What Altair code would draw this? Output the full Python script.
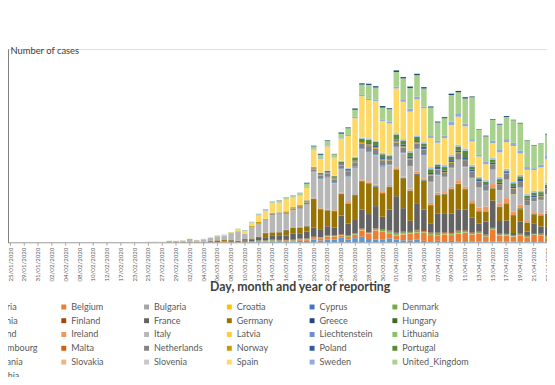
import altair as alt
import pandas as pd

dates = [
    "25/01/2020", "28/01/2020", "29/01/2020", "30/01/2020", "31/01/2020", "01/02/2020",
    "02/02/2020", "03/02/2020", "04/02/2020", "07/02/2020", "08/02/2020", "09/02/2020",
    "10/02/2020", "11/02/2020", "12/02/2020", "13/02/2020", "17/02/2020", "21/02/2020",
    "23/02/2020", "24/02/2020", "25/02/2020", "26/02/2020", "27/02/2020", "28/02/2020",
    "29/02/2020", "01/03/2020",
    "02/03/2020", "03/03/2020", "04/03/2020", "05/03/2020", "06/03/2020", "07/03/2020",
    "08/03/2020", "09/03/2020", "10/03/2020", "11/03/2020", "12/03/2020", "13/03/2020",
    "14/03/2020", "15/03/2020", "16/03/2020", "17/03/2020", "18/03/2020", "19/03/2020",
    "20/03/2020", "21/03/2020", "22/03/2020", "23/03/2020", "24/03/2020", "25/03/2020",
    "26/03/2020", "27/03/2020", "28/03/2020", "29/03/2020", "30/03/2020", "31/03/2020",
    "01/04/2020", "02/04/2020", "03/04/2020", "04/04/2020", "05/04/2020", "06/04/2020",
    "07/04/2020", "08/04/2020", "09/04/2020", "10/04/2020", "11/04/2020", "12/04/2020",
    "13/04/2020", "14/04/2020", "15/04/2020", "16/04/2020", "17/04/2020", "18/04/2020",
    "19/04/2020", "20/04/2020", "21/04/2020", "22/04/2020", "23/04/2020",
]
tick_labels = dates[::2]

countries = [
    "Austria", "Belgium", "Bulgaria", "Croatia", "Cyprus", "Denmark",
    "Estonia", "Finland", "France", "Germany", "Greece", "Hungary",
    "Iceland", "Ireland", "Italy", "Latvia", "Liechtenstein", "Lithuania",
    "Luxembourg", "Malta", "Netherlands", "Norway", "Poland", "Portugal",
    "Romania", "Slovakia", "Slovenia", "Spain", "Sweden", "United_Kingdom",
    "Czechia",
]
colors = [
    "#5B9BD5", "#ED7D31", "#A5A5A5", "#FFC000", "#4472C4", "#70AD47",
    "#255E91", "#9E480E", "#636363", "#997300", "#264478", "#43682B",
    "#7CAFDD", "#F1975A", "#B7B7B7", "#FFCD33", "#698ED0", "#8CC168",
    "#327DC2", "#D26012", "#848484", "#CC9A00", "#335AA1", "#5A8A39",
    "#9DC3E6", "#F4B183", "#C9C9C9", "#FFD966", "#8FAADC", "#A9D18E",
    "#1F4E79",
]

austria = [0,0,0,0,0,0,0,0,0,0,0,0,0,0,0,0,0,0,0,0,0,2,1,2,4,5,
    4,3,6,12,14,11,25,27,29,51, 64,115,151,204,205,158,314,314,550,375,
    595,595,1021,550,858,1141,668,594,522,805, 564,418,395,531,292,232,298,243,273,194,
    237,208,162,87,116,148,98,106,78,72, 51,64,78]
belgium = [0,0,0,0,0,0,0,0,1,0,0,0,0,0,0,0,0,0,0,0,0,0,0,0,0,1,
    0,6,5,10,27,59,60,31,39,28, 47,85,160,133,197,172,185,243,309,462,
    558,586,342,526,668,1298,1049,1850,1702,1063, 876,1189,1384,1422,1661,1260,1123,1380,1209,1580,
    1684,1351,1629,1068,2454,1236,1329,1060,1329,933, 1487,1313,973]
bulgaria = [0,0,0,0,0,0,0,0,0,0,0,0,0,0,0,0,0,0,0,0,0,0,0,0,0,0,
    0,0,0,0,0,0,4,0,2,0, 0,7,5,8,4,9,25,9,11,69,
    24,33,23,19,22,25,30,28,13,51, 11,41,26,27,14,25,28,43,17,48,
    38,57,10,12,45,27,37,48,29,28, 36,42,37]
croatia = [0,0,0,0,0,0,0,0,0,0,0,0,0,0,0,0,0,0,0,0,0,3,0,2,1,0,
    2,0,1,1,1,0,0,1,0,4, 6,5,5,6,8,16,25,24,24,32,
    52,48,53,61,52,79,84,56,56,34, 63,96,69,60,60,41,31,54,55,70,
    61,62,66,33,33,52,64,39,26,19, 21,18,11]
cyprus = [0,0,0,0,0,0,0,0,0,0,0,0,0,0,0,0,0,0,0,0,0,0,0,0,0,0,
    0,0,0,0,0,0,0,2,0,2, 2,0,8,7,6,6,25,9,8,17,
    10,11,19,12,30,28,13,52,16,30, 22,58,23,13,19,18,10,20,18,45,
    23,17,21,12,17,11,16,11,25,7, 5,9,5]
denmark = [0,0,0,0,0,0,0,0,0,0,0,0,0,0,0,0,0,0,0,0,0,0,0,1,0,2,
    1,1,1,5,8,4,4,15,55,156, 252,160,127,37,33,77,80,146,123,44,
    103,79,81,131,133,162,80,175,234,257, 282,256,215,370,248,329,312,173,221,266,
    184,177,179,275,248,144,118,112,109,184, 109,161,197]
estonia = [0,0,0,0,0,0,0,0,0,0,0,0,0,0,0,0,0,0,0,0,0,0,0,1,0,0,
    0,0,1,0,0,0,1,7,0,2, 5,11,40,48,40,100,53,28,27,25,
    23,20,26,25,31,12,34,35,32,37, 41,44,40,36,42,52,64,67,76,71,
    55,36,27,21,82,16,58,33,48,14, 19,28,12]
finland = [0,0,0,1,0,0,0,0,0,0,0,0,0,0,0,0,0,0,0,0,0,1,0,0,0,0,
    1,0,4,4,3,3,3,5,0,15, 19,69,46,48,0,105,59,60,93,71,
    112,95,125,91,65,97,71,88,114,145, 106,104,169,253,198,106,120,119,231,153,
    178,128,138,94,149,139,165,114,123,167, 155,173,160]
france = [3,0,0,1,0,0,0,0,0,0,5,0,0,0,0,1,0,0,0,0,0,2,4,20,19,43,
    61,21,73,138,190,92,296,177,286,372, 497,595,785,838,924,1210,1097,1404,1861,1617,
    1847,1559,3838,2446,2931,3922,3809,4611,2599,4376, 7578,4861,2116,5233,4267,1873,3912,3777,3881,4286,
    4342,3114,1613,2673,5497,2633,2641,405,2569,785, 2051,1457,1827]
germany = [0,1,3,0,1,2,0,2,2,1,0,0,2,0,1,0,0,0,0,0,0,2,6,18,14,57,
    40,46,37,66,138,284,163,55,237,157, 271,802,693,733,1043,1174,1144,1042,5940,4049,
    3276,3311,4438,4100,4954,5780,6294,3965,4751,4615, 5453,6156,6174,6082,5936,3677,3834,4003,4974,5323,
    4133,2821,2537,2082,2486,2866,3380,3609,2458,1775, 1785,2237,2352]
greece = [0,0,0,0,0,0,0,0,0,0,0,0,0,0,0,0,0,0,0,0,0,0,1,2,1,0,
    0,0,2,22,13,1,9,12,16,0, 10,59,38,18,103,7,56,31,46,77,
    35,94,71,48,78,71,71,95,102,60, 69,32,31,129,60,57,62,56,54,20,
    35,57,25,24,22,40,30,26,29,10, 4,15,156]
hungary = [0,0,0,0,0,0,0,0,0,0,0,0,0,0,0,0,0,0,0,0,0,0,0,0,0,0,
    0,0,0,2,2,0,1,5,3,3, 3,3,6,2,7,11,8,15,12,33,
    18,36,19,39,35,58,40,43,39,45, 45,60,33,38,55,73,84,78,85,50,
    69,50,42,25,50,74,118,82,210,71, 101,76,111]
iceland = [0,0,0,0,0,0,0,0,0,0,0,0,0,0,0,0,0,0,0,0,0,0,0,1,0,0,
    3,3,7,10,8,10,5,5,12,15, 12,25,22,9,41,45,51,80,79,94,
    59,95,20,78,89,100,74,67,37,67, 99,60,48,35,61,12,34,27,40,37,
    28,34,12,12,10,21,14,11,12,9, 4,7,5]
ireland = [0,0,0,0,0,0,0,0,0,0,0,0,0,0,0,0,0,0,0,0,0,0,0,0,1,0,
    1,0,0,4,5,5,2,5,3,10, 9,27,20,39,40,54,74,191,126,126,
    102,121,219,204,235,255,302,294,200,295, 325,212,402,424,331,390,370,345,365,700,
    500,430,727,992,832,657,1068,724,778,493, 401,388,631]
italy = [0,0,0,0,2,0,0,0,0,1,0,0,0,0,0,0,0,17,62,53,97,93,78,250,238,240,
    561,347,466,587,769,778,1247,1797,977,2313, 2651,2547,3497,3590,3233,3526,3700,4207,5322,5986,
    6557,5560,4789,5249,5210,6153,5959,5974,5217,4050, 4053,4782,4668,4585,4805,4316,3599,3039,3836,4204,
    3951,4694,4092,3153,2972,2667,3786,3493,3491,3047, 2256,2729,3370]
latvia = [0,0,0,0,0,0,0,0,0,0,0,0,0,0,0,0,0,0,0,0,0,0,0,0,0,0,
    0,1,0,0,0,0,1,0,0,0, 0,1,7,10,1,4,15,16,25,12,
    13,15,17,23,24,17,17,44,29,29, 24,48,15,16,10,11,26,30,19,23,
    33,8,7,7,9,28,16,31,9,9, 19,9,20]
liechtenstein = [0,0,0,0,0,0,0,0,0,0,0,0,0,0,0,0,0,0,0,0,0,0,0,0,0,0,
    0,0,0,0,0,0,0,0,0,0, 0,0,3,0,0,3,0,9,10,5,
    6,5,3,4,2,5,3,2,2,0, 3,0,3,0,3,0,2,0,0,1,
    0,0,0,1,0,0,2,0,0,0, 1,0,0]
lithuania = [0,0,0,0,0,0,0,0,0,0,0,0,0,0,0,0,0,0,0,0,0,0,0,1,0,0,
    0,0,0,0,0,0,0,0,0,3, 0,3,3,6,0,11,8,6,20,20,
    22,27,30,35,47,85,42,83,23,30, 47,69,12,47,3,14,46,14,31,66,
    32,40,48,83,51,13,10,18,18,10, 25,43,33]
luxembourg = [0,0,0,0,0,0,0,0,0,0,0,0,0,0,0,0,0,0,0,0,0,0,0,0,1,0,
    0,0,0,1,2,0,0,0,1,6, 3,12,7,17,26,18,59,62,68,129,
    131,139,136,98,224,152,94,149,184,73, 138,67,156,126,167,104,120,96,87,94,
    82,73,42,56,70,17,44,43,57,20, 18,14,24]
malta = [0,0,0,0,0,0,0,0,0,0,0,0,0,0,0,0,0,0,0,0,0,0,0,0,0,0,
    0,0,0,0,0,3,0,0,0,2, 3,5,11,4,0,6,10,10,21,13,
    16,17,14,4,10,15,10,12,10,10, 13,13,15,11,21,9,13,17,28,19,
    6,13,14,8,8,8,5,11,18,5, 3,2,2]
netherlands = [0,0,0,0,0,0,0,0,0,0,0,0,0,0,0,0,0,0,0,0,0,0,0,1,1,5,
    8,5,6,20,44,46,60,77,56,61, 121,111,190,155,176,278,292,346,409,534,
    637,573,545,811,852,1019,1172,1159,1104,884, 845,1019,1083,1026,904,1224,952,777,969,1213,
    1335,1316,1174,964,867,1061,1235,1140,1066,1067, 750,729,1066]
norway = [0,0,0,0,0,0,0,0,0,0,0,0,0,0,0,0,0,0,0,0,0,0,1,0,5,9,
    4,9,24,16,40,57,25,30,40,193, 221,100,149,162,156,103,194,153,237,199,
    234,235,246,177,194,294,369,351,254,184, 381,286,290,238,186,220,144,148,162,177,
    101,58,79,74,92,137,141,97,99,72, 55,84,108]
poland = [0,0,0,0,0,0,0,0,0,0,0,0,0,0,0,0,0,0,0,0,0,0,0,0,0,0,
    0,0,1,0,4,0,6,6,5,9, 25,19,17,36,25,27,75,49,68,111,
    98,115,152,150,170,168,249,224,193,256, 243,392,437,244,475,311,435,357,370,380,
    336,318,260,268,380,336,300,363,545,263, 313,263,342]
portugal = [0,0,0,0,0,0,0,0,0,0,0,0,0,0,0,0,0,0,0,0,0,0,0,0,0,0,
    0,2,3,3,4,8,9,9,11,18, 18,34,57,57,86,114,117,194,143,235,
    260,320,460,302,633,549,724,902,792,446, 1035,808,783,852,638,754,452,712,699,815,
    1516,598,349,514,643,750,181,663,521,598, 629,516,371]
romania = [0,0,0,0,0,0,0,0,0,0,0,0,0,0,0,0,0,0,0,0,0,0,1,2,0,0,
    0,0,1,1,2,3,2,2,6,10, 14,12,17,19,35,15,26,60,31,31,
    59,66,143,186,144,123,263,160,308,293, 245,269,311,290,257,449,193,441,344,325,
    378,350,300,322,309,404,346,363,309,306, 338,331,370]
slovakia = [0,0,0,0,0,0,0,0,0,0,0,0,0,0,0,0,0,0,0,0,0,0,0,0,0,0,
    0,0,0,0,0,1,0,2,3,1, 11,11,12,10,19,28,20,34,14,17,
    7,9,33,21,34,24,25,27,22,50, 37,26,24,21,14,16,48,48,34,46,
    87,20,25,27,22,34,29,45,32,35, 13,6,9]
slovenia = [0,0,0,0,0,0,0,0,0,0,0,0,0,0,0,0,0,0,0,0,0,0,0,0,0,0,
    0,0,1,5,2,3,3,7,9,31, 34,44,38,40,3,36,25,22,63,26,
    42,21,42,38,33,48,40,40,26,26, 32,20,35,36,23,17,36,22,24,38,
    24,22,15,16,6,20,11,8,10,16, 4,6,16]
spain = [0,0,0,0,0,1,0,0,0,0,0,1,0,0,0,0,0,0,0,0,4,2,6,8,17,13,
    39,51,36,58,80,120,124,430,557,600, 1300,1700,2000,2000,2500,2000,1987,2538,3431,2833,
    4946,3646,4517,6584,7937,8578,7871,8189,6549,6398, 9222,7719,8102,7472,7026,6023,4273,5478,6180,5756,
    4576,4830,4167,3268,3045,5092,5500,7304,4400,5000, 4300,4800,4900]
sweden = [0,0,0,0,0,1,0,0,0,0,0,0,0,0,0,0,0,0,0,0,0,1,5,5,2,2,
    1,1,20,28,32,38,24,42,102,85, 180,130,108,88,70,98,70,180,135,157,
    117,117,100,184,290,263,240,232,330,328, 407,512,621,536,328,387,376,487,726,722,
    544,466,332,465,497,482,613,676,606,563, 392,545,682]
united_kingdom = [0,0,0,0,0,2,0,0,0,1,0,0,4,1,0,1,0,0,0,4,0,0,2,4,3,12,
    13,4,11,34,30,48,43,67,46,50, 83,134,208,342,251,152,407,676,643,714,
    1035,665,967,1427,1452,2129,2885,2546,2433,2619, 3009,4324,4244,4450,3735,5903,3802,3634,5491,4344,
    5195,8681,5233,5288,4342,5252,4603,4617,5599,5525, 4676,4301,4451]
czechia = [0,0,0,0,0,0,0,0,0,0,0,0,0,0,0,0,0,0,0,0,0,0,0,0,0,0,
    3,0,2,2,7,7,7,7,9,23, 22,22,24,38,50,84,38,170,150,208,
    124,95,250,161,276,262,255,279,319,203, 325,270,329,296,294,221,204,222,284,281,
    284,167,103,154,138,167,198,117,131,79, 103,81,139]

series = {
    "Austria": austria, "Belgium": belgium, "Bulgaria": bulgaria, "Croatia": croatia,
    "Cyprus": cyprus, "Denmark": denmark, "Estonia": estonia, "Finland": finland,
    "France": france, "Germany": germany, "Greece": greece, "Hungary": hungary,
    "Iceland": iceland, "Ireland": ireland, "Italy": italy, "Latvia": latvia,
    "Liechtenstein": liechtenstein, "Lithuania": lithuania, "Luxembourg": luxembourg,
    "Malta": malta, "Netherlands": netherlands, "Norway": norway, "Poland": poland,
    "Portugal": portugal, "Romania": romania, "Slovakia": slovakia, "Slovenia": slovenia,
    "Spain": spain, "Sweden": sweden, "United_Kingdom": united_kingdom, "Czechia": czechia,
}
for name, vals in series.items():
    assert len(vals) == len(dates), (name, len(vals))

y_ticks = [0, 5000, 10000, 15000, 20000, 25000, 30000, 35000, 40000]

rows = []
for k, c in enumerate(countries):
    for d, v in zip(dates, series[c]):
        if v > 0:
            rows.append({"date": d, "country": c, "cases": v, "k": k})
df = pd.DataFrame(rows)

STEP = 6.97
FONT = "Lato"

chart = alt.Chart(df).mark_bar().encode(
    x=alt.X(
        "date:N",
        sort=dates,
        scale=alt.Scale(domain=dates, range=[0, STEP * len(dates)], paddingInner=0.2, paddingOuter=0),
        axis=alt.Axis(
            values=tick_labels,
            labelAngle=270,
            labelFont=FONT,
            labelFontSize=6.2,
            labelColor="#595959",
            labelPadding=2,
            labelOverlap=False,
            tickSize=3,
            tickColor="#a6a6a6",
            domainColor="#a6a6a6",
            title="Day, month and year of reporting",
            titleFont=FONT,
            titleFontSize=12.5,
            titleFontWeight="bold",
            titleColor="#404040",
            titleX=296,
            titleY=45,
            titleAlign="center",
            titleBaseline="middle",
        ),
    ),
    y=alt.Y(
        "cases:Q",
        stack="zero",
        scale=alt.Scale(domain=[0, 40000], nice=False),
        axis=alt.Axis(
            values=y_ticks,
            labels=False,
            grid=False,
            domainColor="#808080",
            tickColor="#808080",
            title="Number of cases",
            titleAngle=0,
            titleAlign="left",
            titleBaseline="middle",
            titleX=2,
            titleY=1,
            titleFont=FONT,
            titleFontSize=9.5,
            titleFontWeight="normal",
            titleColor="#404040",
        ),
    ),
    color=alt.Color(
        "country:N",
        scale=alt.Scale(domain=countries, range=colors),
        legend=alt.Legend(
            orient="none",
            legendX=-32,
            legendY=257,
            direction="horizontal",
            columns=6,
            title=None,
            symbolType="square",
            symbolSize=25,
            symbolStrokeWidth=0,
            symbolLimit=50,
            labelFont=FONT,
            labelFontSize=9.2,
            labelColor="#595959",
            labelOffset=3,
            columnPadding=4,
            rowPadding=4,
            gridAlign="all",
            padding=0,
            labelLimit=150,
        ),
    ),
    order=alt.Order("k:Q", sort="ascending"),
).properties(
    width=547,
    height=196,
    autosize=alt.AutoSizeParams(type="none"),
    padding={"left": 0, "top": 39, "right": 0, "bottom": 134},
).configure_view(strokeWidth=0).configure(background="white")

chart.save("out.html", embed_options={"renderer": "svg", "actions": False})
